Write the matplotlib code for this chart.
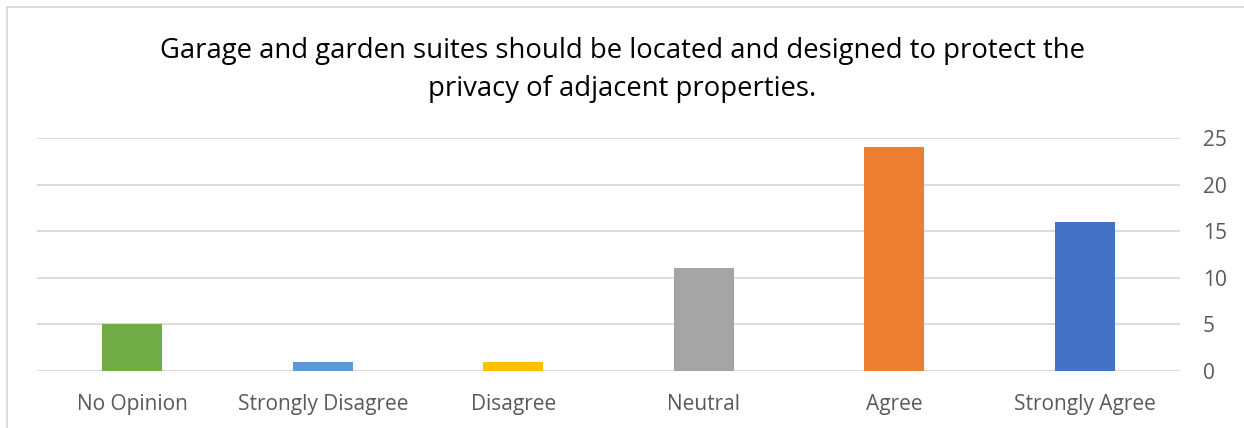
import matplotlib
matplotlib.use("Agg")
import matplotlib.pyplot as plt
from matplotlib.patches import Rectangle

categories = ["No Opinion", "Strongly Disagree", "Disagree", "Neutral", "Agree", "Strongly Agree"]
values = [5, 1, 1, 11, 24, 16]
colors = ["#70AD47", "#5B9BD5", "#FFC000", "#A5A5A5", "#ED7D31", "#4472C4"]
yticks = [0, 5, 10, 15, 20, 25]
title = "Garage and garden suites should be located and designed to protect the\nprivacy of adjacent properties."

plt.rcParams['font.family'] = ['Open Sans', 'DejaVu Sans']

W, H = 1244, 428
fig = plt.figure(figsize=(W / 100, H / 100), dpi=100)
fig.patch.set_facecolor("white")

# chart border
fig.add_artist(Rectangle((7 / W, -0.1), 1.2, (H - 7) / H + 0.1, transform=fig.transFigure,
                         fill=False, edgecolor="#D9D9D9", linewidth=1.3))

x0, x1 = 37, 1180
ytop, ybot = 138, 371
ax = fig.add_axes([x0 / W, (H - ybot) / H, (x1 - x0) / W, (ybot - ytop) / H])
ax.set_xlim(-0.5, len(categories) - 0.5)
ax.set_ylim(0, 25)
ax.bar(range(len(categories)), values, width=0.315, color=colors, zorder=3)

ax.yaxis.tick_right()
ax.set_yticks(yticks)
ax.set_yticklabels([str(t) for t in yticks])
ax.set_xticks(range(len(categories)))
ax.set_xticklabels(categories)
ax.tick_params(axis="both", length=0, labelsize=15, colors="#595959")
ax.tick_params(axis="y", pad=16.5)
ax.tick_params(axis="x", pad=16.5)
ax.grid(axis="y", color="#D9D9D9", linewidth=1.3, zorder=0)
for s in ax.spines.values():
    s.set_visible(False)

fig.text(0.5, 1 - 70 / H, title, ha="center", va="center", fontsize=19.8,
         color="#000000", linespacing=1.5)

fig.savefig("out.png", dpi=100, facecolor="white")
